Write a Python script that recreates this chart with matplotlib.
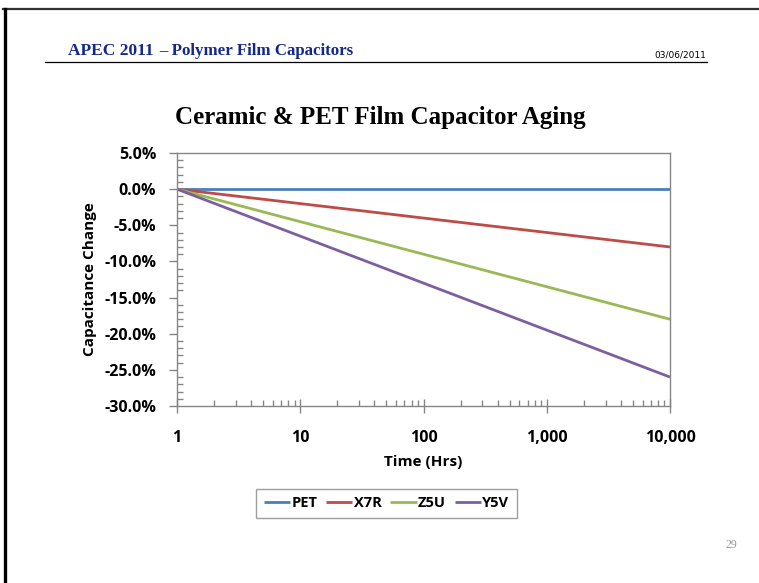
import numpy as np
import matplotlib
matplotlib.use("Agg")
import matplotlib.pyplot as plt
from matplotlib.lines import Line2D
from matplotlib.ticker import FixedLocator, FuncFormatter, MultipleLocator, LogLocator, NullFormatter

# data
hours = [1, 10, 100, 1000, 10000]
pet = [0.0, 0.0, 0.0, 0.0, 0.0]
x7r = [0.0, -2.0, -4.0, -6.0, -8.0]
z5u = [0.0, -4.5, -9.0, -13.5, -18.0]
y5v = [0.0, -6.5, -13.0, -19.5, -26.0]
series_names = ["PET", "X7R", "Z5U", "Y5V"]
colors = ["#4A7EBB", "#BE4B48", "#98B954", "#7D5FA0"]

sans = ["Open Sans", "DejaVu Sans"]
serif = ["Liberation Serif", "DejaVu Serif"]

fig = plt.figure(figsize=(7.59, 5.83), dpi=100)
W, H = 759, 583

def fx(px):
    return px / W

def fy(py):
    return 1 - py / H

# slide frame
fig.add_artist(Line2D([fx(3), 1], [fy(9), fy(9)], color="#333333", lw=1.6))
fig.add_artist(Line2D([fx(4.5), fx(4.5)], [0, fy(9)], color="black", lw=2.4))

# header
hdr_blue = "#14288C"
fig.text(fx(68), fy(55), "APEC 2011", family=serif, weight="bold", size=12.5, color=hdr_blue)
fig.text(fx(159), fy(55), "\u2013 Polymer Film Capacitors", family=serif, weight="bold", size=12.2, color=hdr_blue)
fig.text(fx(706), fy(58), "03/06/2011", family=["Liberation Sans Narrow", "DejaVu Sans"], size=6.5, ha="right")
fig.add_artist(Line2D([fx(45), fx(707)], [fy(62), fy(62)], color="black", lw=0.9))
fig.text(fx(737), fy(548), "29", family=serif, size=8.5, color="#999999", ha="right")

# chart title
fig.text(fx(380), fy(124), "Ceramic & PET Film Capacitor Aging", family=serif, weight="bold",
         size=18, ha="center")

ax = fig.add_axes([fx(177), fy(406), fx(670) - fx(177), fy(153) - fy(406)])
for vals, name, c in zip([pet, x7r, z5u, y5v], series_names, colors):
    ax.plot(hours, vals, color=c, lw=2.0, label=name, solid_capstyle="butt")

ax.set_xscale("log")
ax.set_xlim(1, 10000)
ax.set_ylim(-30, 5)
ax.yaxis.set_major_locator(MultipleLocator(5))
ax.yaxis.set_minor_locator(MultipleLocator(1))
ax.yaxis.set_major_formatter(FuncFormatter(lambda v, p: f"{v:.1f}%"))
ax.xaxis.set_major_locator(FixedLocator(hours))
ax.xaxis.set_minor_locator(LogLocator(base=10, subs=np.arange(2, 10)))
ax.xaxis.set_minor_formatter(NullFormatter())
ax.xaxis.set_major_formatter(FuncFormatter(lambda v, p: f"{int(round(v)):,}"))

for s in ax.spines.values():
    s.set_color("#868686")
    s.set_linewidth(1.0)

ax.tick_params(axis="y", which="major", direction="out", length=6, width=1, color="#868686", pad=9)
ax.tick_params(axis="y", which="minor", direction="in", length=4, width=1, color="#868686")
ax.tick_params(axis="x", which="major", direction="inout", length=10, width=1, color="#868686", pad=12)
ax.tick_params(axis="x", which="minor", direction="in", length=4, width=1, color="#868686")
for lab in ax.get_xticklabels() + ax.get_yticklabels():
    lab.set_family(sans)
    lab.set_fontweight("bold")
    lab.set_fontsize(11.5)

ax.set_xlabel("Time (Hrs)", family=sans, weight="bold", size=11, labelpad=7)
ax.set_ylabel("Capacitance Change", family=sans, weight="bold", size=11, labelpad=5)

leg = ax.legend(loc="center", bbox_to_anchor=(0.425, -0.385), ncol=4, frameon=True, fancybox=False,
                handlelength=1.8, handletextpad=0.1, columnspacing=0.6, borderpad=0.5,
                prop={"family": sans, "weight": "bold", "size": 10.5})
leg.get_frame().set_edgecolor("#868686")
leg.get_frame().set_linewidth(1.0)

fig.savefig("out.png", dpi=100)
